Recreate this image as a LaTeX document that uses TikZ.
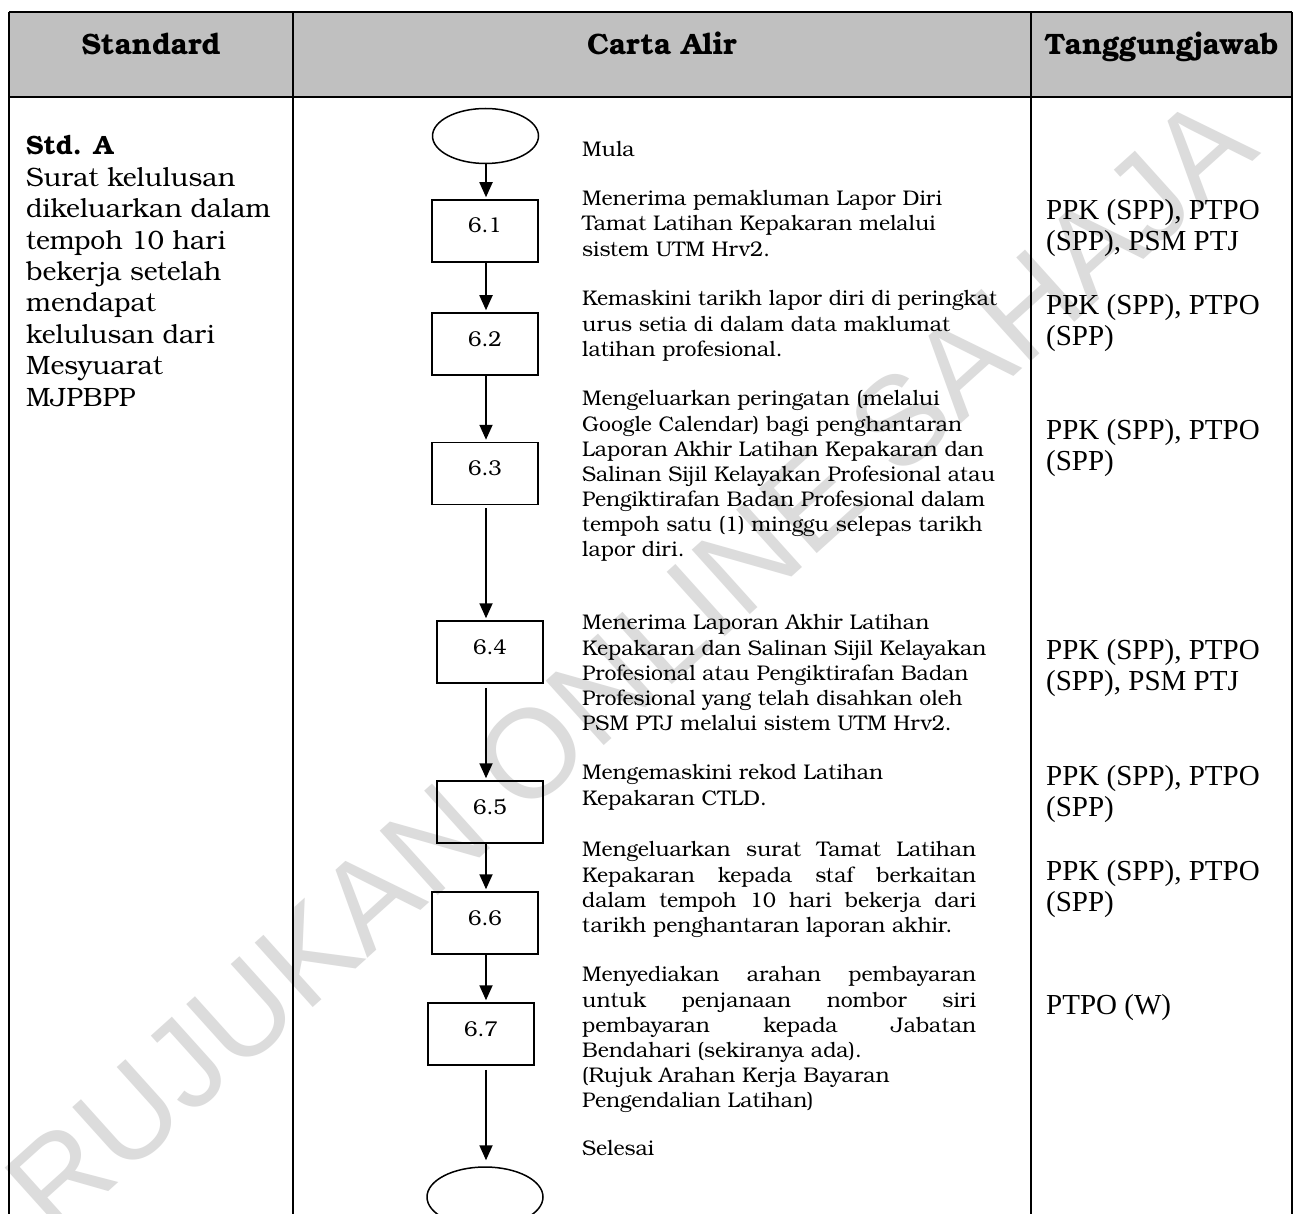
\documentclass[tikz,border=0pt]{standalone}
\usepackage{fontspec}
\setmainfont{texgyrebonum}[Extension=.otf, UprightFont=*-regular, BoldFont=*-bold, ItalicFont=*-italic, BoldItalicFont=*-bolditalic]
\newfontfamily\timesf{Liberation Serif}
\newfontfamily\wmfont{Liberation Sans}
\usetikzlibrary{arrows.meta,shapes.geometric}
\definecolor{hdrgray}{RGB}{192,192,192}
\definecolor{wmgray}{RGB}{220,220,220}
\begin{document}
\begin{tikzpicture}[x=1pt,y=-1pt,
  tbl/.style={line width=2.4pt},
  stepbox/.style={draw, line width=1.5pt, rectangle, minimum width=106pt, minimum height=62pt,
     inner sep=0pt, font=\fontsize{21.5}{24}\selectfont, text height=12pt, text depth=8pt},
  term/.style={draw, ellipse, line width=1.5pt, inner sep=0pt},
  arr/.style={line width=1.8pt, -{Triangle[width=13pt,length=15pt]}, shorten >=2pt},
  ftext/.style={anchor=north west, inner sep=0pt, align=left, font=\fontsize{21.2}{25.1}\selectfont},
  jtext/.style={ftext, text width=394pt, align=justify},
  ltext/.style={anchor=north west, inner sep=0pt, align=left, font=\fontsize{26.5}{31.4}\selectfont},
  rtext/.style={anchor=north west, inner sep=0pt, align=left, font=\timesf\fontsize{29}{31}\selectfont},
  htext/.style={anchor=base, inner sep=0pt, font=\bfseries\fontsize{29.5}{32}\selectfont},
  wm/.style={text=wmgray, inner sep=0pt, font=\wmfont\fontsize{126}{126}\selectfont}
]
\useasboundingbox (0,0) rectangle (1300,1214);
\clip (0,0) rectangle (1300,1214);
\fill[white] (0,0) rectangle (1300,1214);

% watermark
\node[wm, rotate=42] (wmark) at (630,664) {RUJUKAN ONLINE SAHAJA};

% header
\fill[hdrgray] (9,12) rectangle (1292,97);
\node[htext] (h1) at (151,55) {Standard};
\node[htext] (h2) at (662,55) {Carta Alir};
\node[htext] (h3) at (1161.5,55) {Tanggungjawab};

% table lines
\draw[tbl] (9,12) -- (1292,12);
\draw[tbl] (9,97) -- (1292,97);
\draw[tbl] (9,12) -- (9,1220);
\draw[tbl] (293,12) -- (293,1220);
\draw[tbl] (1031,12) -- (1031,1220);
\draw[tbl] (1292,12) -- (1292,1220);

% standard column
\node[ltext] (std) at (26,135.5) {\textbf{Std. A}\\ Surat kelulusan\\ dikeluarkan dalam\\ tempoh 10 hari\\ bekerja setelah\\ mendapat\\ kelulusan dari\\ Mesyuarat\\ MJPBPP};

% flow chart
\node[term, minimum width=106pt, minimum height=55pt] (start) at (485.5,136) {};
\node[stepbox] (b1) at (485,231) {6.1};
\node[stepbox] (b2) at (485,344) {6.2};
\node[stepbox] (b3) at (485,473.5) {6.3};
\node[stepbox] (b4) at (490,652) {6.4};
\node[stepbox] (b5) at (490,812) {6.5};
\node[stepbox] (b6) at (485,923) {6.6};
\node[stepbox] (b7) at (481,1034) {6.7};
\node[term, minimum width=116pt, minimum height=60pt] (stop) at (485,1197) {};

\draw[arr] ([xshift=0.5pt]start.south) -- ([xshift=0.5pt]start.south |- b1.north);
\draw[arr] ([xshift=1pt]b1.south) -- ([xshift=1pt]b1.south |- b2.north);
\draw[arr] ([xshift=1pt]b2.south) -- ([xshift=1pt]b2.south |- b3.north);
\draw[arr, shorten <=3pt] ([xshift=1pt]b3.south) -- ([xshift=1pt]b3.south |- b4.north);
\draw[arr, shorten <=4pt] ([xshift=-4pt]b4.south) -- ([xshift=-4pt]b4.south |- b5.north);
\draw[arr] ([xshift=-4pt]b5.south) -- ([xshift=-4pt]b5.south |- b6.north);
\draw[arr] ([xshift=1pt]b6.south) -- ([xshift=1pt]b6.south |- b7.north);
\draw[arr, shorten <=4pt, shorten >=6pt] ([xshift=5pt]b7.south) -- ([xshift=5pt]b7.south |- stop.north);

% flow descriptions
\node[ftext] (t0) at (582,141.5) {Mula};
\node[ftext] (t1) at (582,190.5) {Menerima pemakluman Lapor Diri\\ Tamat Latihan Kepakaran melalui\\ sistem UTM Hrv2.};
\node[ftext] (t2) at (582,290.5) {Kemaskini tarikh lapor diri di peringkat\\ urus setia di dalam data maklumat\\ latihan profesional.};
\node[ftext] (t3) at (582,390.5) {Mengeluarkan peringatan (melalui\\ Google Calendar) bagi penghantaran\\ Laporan Akhir Latihan Kepakaran dan\\ Salinan Sijil Kelayakan Profesional atau\\ Pengiktirafan Badan Profesional dalam\\ tempoh satu (1) minggu selepas tarikh\\ lapor diri.};
\node[ftext] (t4) at (582,614.5) {Menerima Laporan Akhir Latihan\\ Kepakaran dan Salinan Sijil Kelayakan\\ Profesional atau Pengiktirafan Badan\\ Profesional yang telah disahkan oleh\\ PSM PTJ melalui sistem UTM Hrv2.};
\node[ftext] (t5) at (582,764.5) {Mengemaskini rekod Latihan\\ Kepakaran CTLD.};
\node[jtext] (t6) at (582,841.5) {Mengeluarkan surat Tamat Latihan\linebreak Kepakaran kepada staf berkaitan\linebreak dalam tempoh 10 hari bekerja dari\linebreak tarikh penghantaran laporan akhir.};
\node[jtext] (t7) at (582,966.5) {Menyediakan arahan pembayaran\linebreak untuk penjanaan nombor siri\linebreak pembayaran kepada Jabatan\linebreak Bendahari (sekiranya ada).\newline (Rujuk Arahan Kerja Bayaran\newline Pengendalian Latihan)};
\node[ftext] (t8) at (582,1140.5) {Selesai};

% responsibility column
\node[rtext] (r1) at (1046,199) {PPK (SPP), PTPO\\ (SPP), PSM PTJ};
\node[rtext] (r2) at (1046,294) {PPK (SPP), PTPO\\ (SPP)};
\node[rtext] (r3) at (1046,419) {PPK (SPP), PTPO\\ (SPP)};
\node[rtext] (r4) at (1046,639) {PPK (SPP), PTPO\\ (SPP), PSM PTJ};
\node[rtext] (r5) at (1046,765) {PPK (SPP), PTPO\\ (SPP)};
\node[rtext] (r6) at (1046,860) {PPK (SPP), PTPO\\ (SPP)};
\node[rtext] (r7) at (1046,994) {PTPO (W)};
\end{tikzpicture}
\end{document}
